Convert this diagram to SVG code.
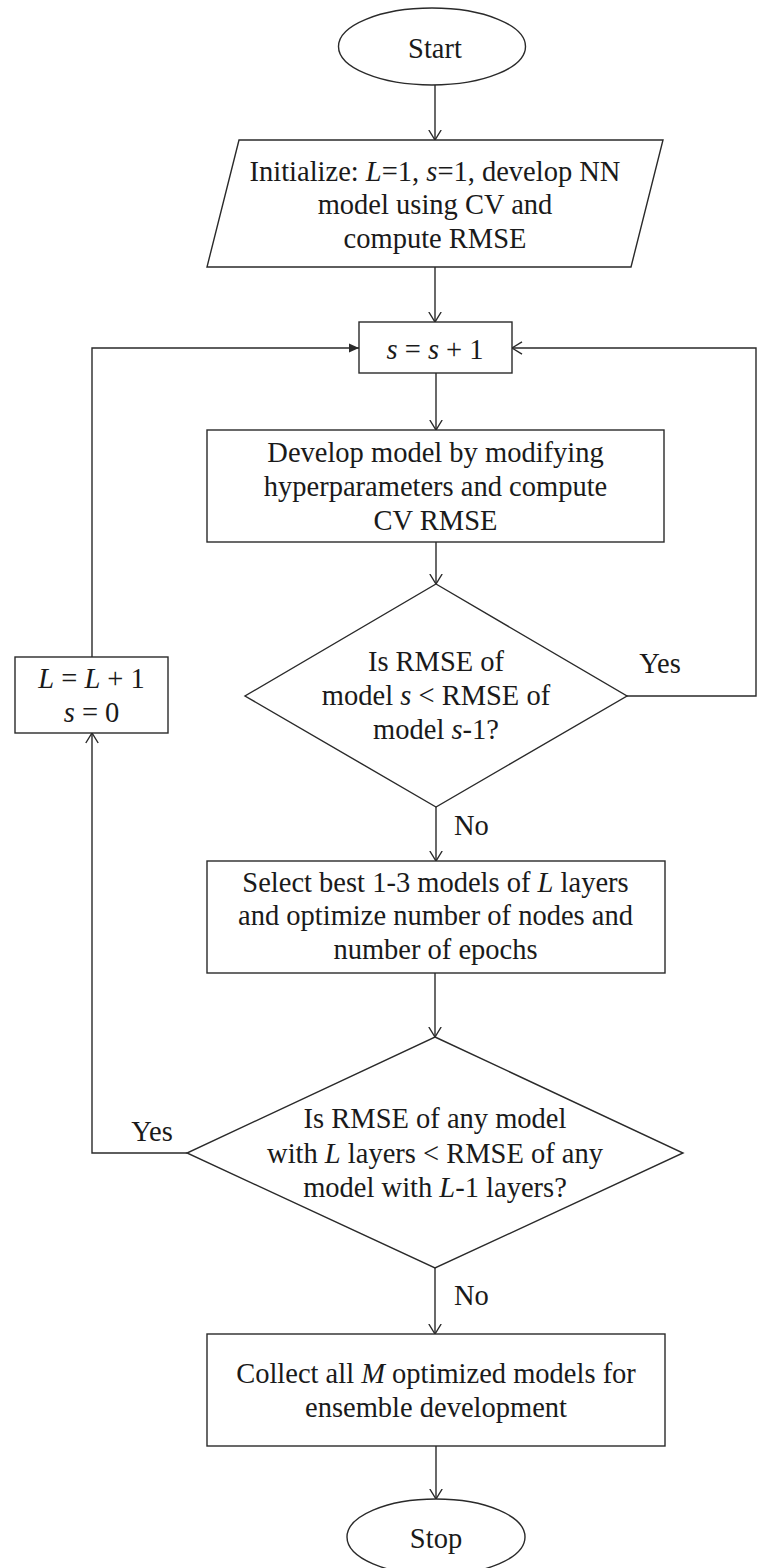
<svg xmlns="http://www.w3.org/2000/svg" width="757" height="1568" viewBox="0 0 757 1568">
  <style>
    .shape { fill: #ffffff; stroke: #2a2a2a; stroke-width: 1.4; }
    .link { fill: none; stroke: #2a2a2a; stroke-width: 1.4; }
    text { font-family: "Liberation Serif", "Times New Roman", serif; font-size: 28.5px; fill: #1a1a1a; }
    .c { text-anchor: middle; }
    .i { font-style: italic; }
  </style>
  <defs>
    <!-- open chevron head used on most flow lines -->
    <marker id="open" viewBox="0 0 11 14" refX="10.5" refY="7" markerWidth="11" markerHeight="14" orient="auto" markerUnits="userSpaceOnUse">
      <path d="M0.5,0.8 L10.5,7 L0.5,13.2" fill="none" stroke="#2a2a2a" stroke-width="1.4"/>
    </marker>
    <!-- solid triangular head on the loop back into the counter box -->
    <marker id="solid" viewBox="0 0 10 10" refX="10" refY="5" markerWidth="10" markerHeight="10" orient="auto" markerUnits="userSpaceOnUse">
      <path d="M0,0.6 L10,5 L0,9.4 Z" fill="#2a2a2a"/>
    </marker>
  </defs>

  <rect width="757" height="1568" fill="#ffffff"/>

  <g id="connectors">
    <path class="link" d="M435,85 V140" marker-end="url(#open)"/>
    <path class="link" d="M435,267 V322" marker-end="url(#open)"/>
    <path class="link" d="M436,373 V430" marker-end="url(#open)"/>
    <path class="link" d="M436,542 V584" marker-end="url(#open)"/>
    <path class="link" d="M627,696 H756 V348 H512" marker-end="url(#open)"/>
    <path class="link" d="M436,807 V861" marker-end="url(#open)"/>
    <path class="link" d="M435,973 V1037" marker-end="url(#open)"/>
    <path class="link" d="M187,1153 H92 V733" marker-end="url(#open)"/>
    <path class="link" d="M92,657 V348 H359" marker-end="url(#solid)"/>
    <path class="link" d="M435,1268 V1334" marker-end="url(#open)"/>
    <path class="link" d="M436,1446 V1499" marker-end="url(#open)"/>
  </g>

  <g id="labels">
    <text x="660" y="673" class="c">Yes</text>
    <text x="454" y="835">No</text>
    <text x="152" y="1141" class="c">Yes</text>
    <text x="454" y="1305">No</text>
  </g>

  <g id="start">
    <ellipse class="shape" cx="432" cy="46.5" rx="93.5" ry="38.5"/>
    <text x="435" y="58" class="c">Start</text>
  </g>

  <g id="initialize">
    <polygon class="shape" points="239,140 663,140 631,267 207,267"/>
    <text x="435" y="181" class="c">Initialize: <tspan class="i">L</tspan>=1, <tspan class="i">s</tspan>=1, develop NN</text>
    <text x="435" y="214" class="c">model using CV and</text>
    <text x="435" y="248" class="c">compute RMSE</text>
  </g>

  <g id="increment-s">
    <rect class="shape" x="359" y="322" width="153" height="51"/>
    <text x="435" y="359" class="c"><tspan class="i">s</tspan> = <tspan class="i">s</tspan> + 1</text>
  </g>

  <g id="develop">
    <rect class="shape" x="207" y="430" width="457" height="112"/>
    <text x="435.5" y="462" class="c">Develop model by modifying</text>
    <text x="435.5" y="496" class="c">hyperparameters and compute</text>
    <text x="435.5" y="530" class="c">CV RMSE</text>
  </g>

  <g id="decision-step">
    <polygon class="shape" points="436,584 627,696 436,807 245,696"/>
    <text x="436" y="671" class="c">Is RMSE of</text>
    <text x="436" y="705" class="c">model <tspan class="i">s</tspan> &lt; RMSE of</text>
    <text x="436" y="739" class="c">model <tspan class="i">s</tspan>-1?</text>
  </g>

  <g id="increment-L">
    <rect class="shape" x="15" y="657" width="153" height="76"/>
    <text x="91.5" y="688" class="c"><tspan class="i">L</tspan> = <tspan class="i">L</tspan> + 1</text>
    <text x="91.5" y="722" class="c"><tspan class="i">s</tspan> = 0</text>
  </g>

  <g id="select">
    <rect class="shape" x="207" y="861" width="458" height="112"/>
    <text x="435.5" y="892" class="c">Select best 1-3 models of <tspan class="i">L</tspan> layers</text>
    <text x="435.5" y="925" class="c">and optimize number of nodes and</text>
    <text x="435.5" y="959" class="c">number of epochs</text>
  </g>

  <g id="decision-layers">
    <polygon class="shape" points="435,1037 683,1153 435,1268 187,1153"/>
    <text x="435" y="1128" class="c">Is RMSE of any model</text>
    <text x="435" y="1163" class="c">with <tspan class="i">L</tspan> layers &lt; RMSE of any</text>
    <text x="435" y="1197" class="c">model with <tspan class="i">L</tspan>-1 layers?</text>
  </g>

  <g id="collect">
    <rect class="shape" x="207" y="1334" width="458" height="112"/>
    <text x="436" y="1383" class="c">Collect all <tspan class="i">M</tspan> optimized models for</text>
    <text x="436" y="1417" class="c">ensemble development</text>
  </g>

  <g id="stop">
    <ellipse class="shape" cx="436" cy="1537" rx="89" ry="38"/>
    <text x="436" y="1548" class="c">Stop</text>
  </g>
</svg>
